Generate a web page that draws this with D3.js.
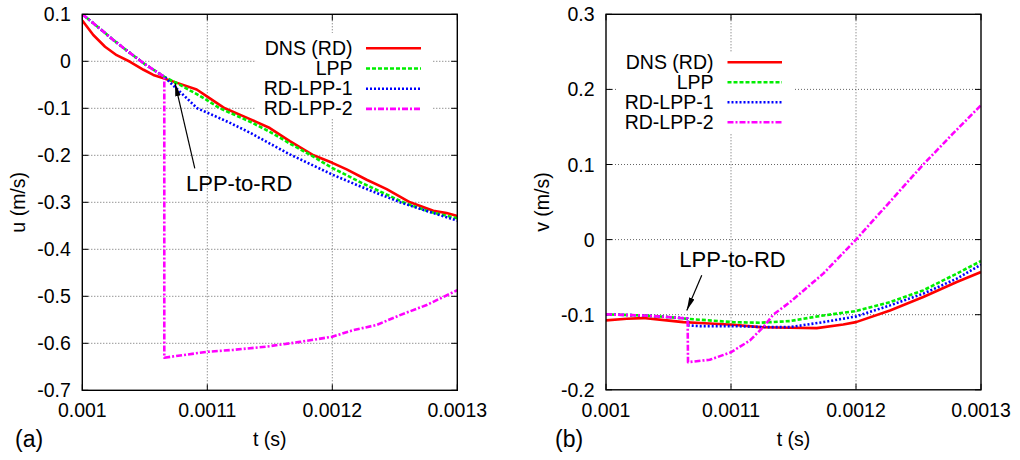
<!DOCTYPE html>
<html><head><meta charset="utf-8">
<script src="https://cdn.jsdelivr.net/npm/d3@7"></script>
<style>
body{margin:0;background:#fff}
svg{display:block}
text{font-family:"Liberation Sans",Arial,Helvetica,sans-serif;fill:#000}
</style>
</head><body>
<svg id="chart" width="1020" height="460"></svg>
<script>
// ---------- data ----------
const seriesNames = ["DNS (RD)", "LPP", "RD-LPP-1", "RD-LPP-2"];
const seriesColors = ["#ff0000", "#00ee00", "#0000ff", "#ff00ff"];
const tTicks = [0.001, 0.0011, 0.0012, 0.0013];
const tTickLabels = ["0.001", "0.0011", "0.0012", "0.0013"];
const uTicks = [0.1, 0, -0.1, -0.2, -0.3, -0.4, -0.5, -0.6, -0.7];
const uTickLabels = ["0.1", "0", "-0.1", "-0.2", "-0.3", "-0.4", "-0.5", "-0.6", "-0.7"];
const vTicks = [0.3, 0.2, 0.1, 0, -0.1, -0.2];
const vTickLabels = ["0.3", "0.2", "0.1", "0", "-0.1", "-0.2"];

// (a) u(t)
const uDNS = [[0.001,0.087],[0.0010088,0.056],[0.0010182,0.031],[0.0010275,0.013],[0.0010382,-0.001],[0.001049,-0.018],[0.0010568,-0.029],[0.001065,-0.036],[0.0010782,-0.048],[0.0010915,-0.060],[0.0011,-0.075],[0.001114,-0.1],[0.0011342,-0.123],[0.00115,-0.142],[0.001166,-0.17],[0.001185,-0.2],[0.0012,-0.216],[0.0012115,-0.23],[0.0012275,-0.252],[0.0012435,-0.272],[0.0012622,-0.3],[0.0012808,-0.318],[0.0012915,-0.323],[0.0013,-0.329]];
const uLPP = [[0.001,0.1],[0.0010125,0.073],[0.001025,0.045],[0.0010375,0.019],[0.00105,-0.006],[0.0010662,-0.034],[0.0010782,-0.050],[0.0010942,-0.074],[0.0011,-0.083],[0.00111,-0.1],[0.0011342,-0.1285],[0.00115,-0.15],[0.001166,-0.175],[0.001183,-0.2],[0.0012,-0.227],[0.0012245,-0.26],[0.0012568,-0.3],[0.0012775,-0.32],[0.0013,-0.334]];
const uRDLPP1 = [[0.001,0.1],[0.0010125,0.073],[0.001025,0.045],[0.0010375,0.019],[0.00105,-0.006],[0.0010662,-0.034],[0.0010702,-0.045],[0.0010782,-0.065],[0.001092,-0.1],[0.0011048,-0.115],[0.0011182,-0.131],[0.0011342,-0.152],[0.00115,-0.175],[0.001166,-0.198],[0.0012,-0.241],[0.0012222,-0.266],[0.0012542,-0.3],[0.0012702,-0.314],[0.0013,-0.339]];
const uRDLPP2 = [[0.001,0.1],[0.0010125,0.073],[0.001025,0.045],[0.0010375,0.019],[0.00105,-0.006],[0.0010656,-0.033],[0.0010656,-0.6306],[0.0011,-0.618],[0.0011208,-0.614],[0.0011475,-0.607],[0.0011742,-0.597],[0.0012,-0.586],[0.0012168,-0.572],[0.0012355,-0.561],[0.0012542,-0.54],[0.0012755,-0.5185],[0.0013,-0.487]];

// (b) v(t)
const vDNS = [[0.001,-0.1076],[0.0010166,-0.1053],[0.0010298,-0.1045],[0.0010486,-0.1076],[0.0010618,-0.1099],[0.0010752,-0.111],[0.0011018,-0.1133],[0.0011232,-0.1166],[0.0011472,-0.1173],[0.0011686,-0.1179],[0.0011898,-0.113],[0.0012,-0.1099],[0.0012272,-0.0943],[0.0012538,-0.0765],[0.0012806,-0.0565],[0.0013,-0.0432]];
const vLPP = [[0.001,-0.0996],[0.0010298,-0.101],[0.0010486,-0.103],[0.0010653,-0.1055],[0.0011018,-0.1099],[0.0011232,-0.1107],[0.0011472,-0.1085],[0.0011738,-0.101],[0.0012,-0.0952],[0.0012272,-0.0832],[0.0012538,-0.0676],[0.0012806,-0.0453],[0.0013,-0.0285]];
const vRDLPP1 = [[0.001,-0.0996],[0.0010298,-0.101],[0.0010486,-0.103],[0.0010653,-0.105],[0.001066,-0.1143],[0.0010752,-0.1152],[0.0011018,-0.1152],[0.0011286,-0.1165],[0.0011472,-0.1165],[0.0011738,-0.1099],[0.0012,-0.1023],[0.0012272,-0.0876],[0.0012538,-0.072],[0.0012806,-0.052],[0.0013,-0.0333]];
const vRDLPP2 = [[0.001,-0.0996],[0.0010298,-0.101],[0.0010486,-0.103],[0.0010653,-0.105],[0.0010656,-0.1632],[0.001083,-0.16],[0.0011,-0.15],[0.0011152,-0.1343],[0.0011258,-0.1165],[0.0011338,-0.1],[0.0011472,-0.0832],[0.0011738,-0.0453],[0.0012,0.0],[0.0012269,0.05],[0.0012538,0.1],[0.0012769,0.14],[0.0013,0.179]];

// annotations: [t, value]
const noteText = "LPP-to-RD";
const noteATip = [0.0010742, -0.0468], noteATail = [0.001090, -0.2277], noteAText = [0.0011255, -0.276];
const noteBTip = [0.0010646, -0.0943], noteBTail = [0.0010766, -0.0476], noteBText = [0.0011012, -0.0365];

// ---------- layout ----------
const styles = [
  {w: 2.6, dash: null},
  {w: 2.6, dash: "4,2"},
  {w: 2.6, dash: "2,2"},
  {w: 2.6, dash: "6,2,2,2"}
];
const panels = [
  {key: "a", x0: 82.3, x1: 457.3, y0: 14.3, y1: 390.3, yDomain: [-0.7, 0.1],
   yTicks: uTicks, yTickLabels: uTickLabels, yLabel: "u (m/s)", yLabelX: 25, tag: "(a)", tagX: 15,
   series: [uDNS, uLPP, uRDLPP1, uRDLPP2],
   legend: {textX: 352.5, lineX0: 366, lineX1: 421, rowY: 48.3, dy: 20.2, box: [255, 33, 433, 118]},
   note: {tip: noteATip, tail: noteATail, text: noteAText}},
  {key: "b", x0: 606, x1: 981, y0: 14.3, y1: 389.8, yDomain: [-0.2, 0.3],
   yTicks: vTicks, yTickLabels: vTickLabels, yLabel: "v (m/s)", yLabelX: 549, tag: "(b)", tagX: 555,
   series: [vDNS, vLPP, vRDLPP1, vRDLPP2],
   legend: {textX: 713.5, lineX0: 727.5, lineX1: 782, rowY: 62.3, dy: 20, box: [617, 53, 793, 133]},
   note: {tip: noteBTip, tail: noteBTail, text: noteBText}}
];

const svg = d3.select("#chart");
const defs = svg.append("defs");
defs.append("marker").attr("id", "arrow")
  .attr("viewBox", "0 -5 13 10").attr("refX", 13).attr("refY", 0)
  .attr("markerWidth", 13).attr("markerHeight", 10)
  .attr("markerUnits", "userSpaceOnUse").attr("orient", "auto")
  .append("path").attr("d", "M0,-2.8L13,0L0,2.8Z").attr("fill", "#000");

panels.forEach(p => {
  const x = d3.scaleLinear().domain([0.001, 0.0013]).range([p.x0, p.x1]);
  const y = d3.scaleLinear().domain(p.yDomain).range([p.y1, p.y0]);
  const g = svg.append("g");

  defs.append("clipPath").attr("id", "clip-" + p.key)
    .append("rect").attr("x", p.x0).attr("y", p.y0)
    .attr("width", p.x1 - p.x0).attr("height", p.y1 - p.y0);

  // grid
  const grid = g.append("g").attr("stroke", "#000").attr("stroke-width", 0.8)
    .attr("stroke-dasharray", "1,2").attr("opacity", 0.75);
  tTicks.slice(1, -1).forEach(t => grid.append("line")
    .attr("x1", x(t)).attr("x2", x(t)).attr("y1", p.y0).attr("y2", p.y1));
  p.yTicks.slice(1, -1).forEach(v => grid.append("line")
    .attr("x1", p.x0).attr("x2", p.x1).attr("y1", y(v)).attr("y2", y(v)));

  // legend background (opaque key)
  const b = p.legend.box;
  g.append("rect").attr("x", b[0]).attr("y", b[1]).attr("width", b[2] - b[0]).attr("height", b[3] - b[1]).attr("fill", "#fff");

  // tick marks (mirrored, inward)
  const tk = g.append("g").attr("stroke", "#000").attr("stroke-width", 1);
  tTicks.forEach(t => {
    tk.append("line").attr("x1", x(t)).attr("x2", x(t)).attr("y1", p.y1).attr("y2", p.y1 - 6);
    tk.append("line").attr("x1", x(t)).attr("x2", x(t)).attr("y1", p.y0).attr("y2", p.y0 + 6);
  });
  p.yTicks.forEach(v => {
    tk.append("line").attr("x1", p.x0).attr("x2", p.x0 + 6).attr("y1", y(v)).attr("y2", y(v));
    tk.append("line").attr("x1", p.x1).attr("x2", p.x1 - 6).attr("y1", y(v)).attr("y2", y(v));
  });

  // curves
  const line = d3.line().x(d => x(d[0])).y(d => y(d[1]));
  const cg = g.append("g").attr("clip-path", "url(#clip-" + p.key + ")");
  p.series.forEach((s, i) => {
    cg.append("path").datum(s).attr("d", line).attr("fill", "none")
      .attr("stroke", seriesColors[i]).attr("stroke-width", styles[i].w)
      .attr("stroke-dasharray", styles[i].dash).attr("stroke-linejoin", "round");
  });

  // frame
  g.append("rect").attr("x", p.x0).attr("y", p.y0).attr("width", p.x1 - p.x0).attr("height", p.y1 - p.y0)
    .attr("fill", "none").attr("stroke", "#000").attr("stroke-width", 1.4);

  // tick labels
  tTicks.forEach((t, i) => g.append("text").attr("x", x(t)).attr("y", p.y1 + 27)
    .attr("text-anchor", "middle").attr("font-size", 19.5).text(tTickLabels[i]));
  p.yTicks.forEach((v, i) => g.append("text").attr("x", p.x0 - 11.5).attr("y", y(v) + 7)
    .attr("text-anchor", "end").attr("font-size", 19.5).text(p.yTickLabels[i]));

  // axis titles
  g.append("text").attr("x", (p.x0 + p.x1) / 2).attr("y", 446)
    .attr("text-anchor", "middle").attr("font-size", 19.5).text("t (s)");
  g.append("text").attr("transform", `translate(${p.yLabelX},${(p.y0 + p.y1) / 2}) rotate(-90)`)
    .attr("text-anchor", "middle").attr("font-size", 19.5).text(p.yLabel);
  g.append("text").attr("x", p.tagX).attr("y", 447).attr("font-size", 23).text(p.tag);

  // legend
  const L = p.legend;
  seriesNames.forEach((n, i) => {
    const ry = L.rowY + i * L.dy;
    g.append("text").attr("x", L.textX).attr("y", ry + 6.5).attr("text-anchor", "end")
      .attr("font-size", 19.5).text(n);
    g.append("line").attr("x1", L.lineX0).attr("x2", L.lineX1).attr("y1", ry).attr("y2", ry)
      .attr("stroke", seriesColors[i]).attr("stroke-width", styles[i].w)
      .attr("stroke-dasharray", styles[i].dash);
  });

  // annotation
  const N = p.note;
  g.append("line").attr("x1", x(N.tail[0])).attr("y1", y(N.tail[1]))
    .attr("x2", x(N.tip[0])).attr("y2", y(N.tip[1]))
    .attr("stroke", "#000").attr("stroke-width", 1.2).attr("marker-end", "url(#arrow)");
  g.append("text").attr("x", x(N.text[0])).attr("y", y(N.text[1]))
    .attr("text-anchor", "middle").attr("font-size", 22).text(noteText);
});
</script>
</body></html>
